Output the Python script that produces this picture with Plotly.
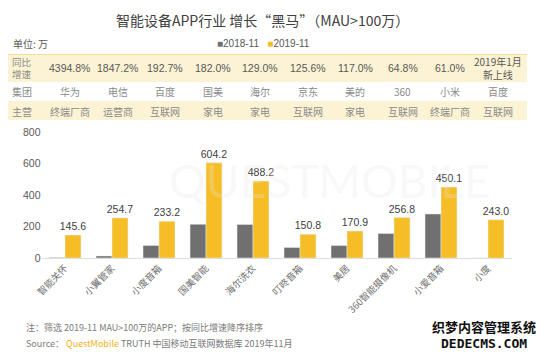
import plotly.graph_objects as go

categories = ["智能关怀", "小翼管家", "小度音箱", "国美智能", "海尔洗衣",
              "叮咚音箱", "美居", "360智能摄像机", "小爱音箱", "小度"]
mau_2018 = [3.2, 13.1, 79.7, 214.3, 213.2, 66.8, 78.8, 155.8, 279.6, 0]
mau_2019 = [145.6, 254.7, 233.2, 604.2, 488.2, 150.8, 170.9, 256.8, 450.1, 243.0]
growth = ["4394.8%", "1847.2%", "192.7%", "182.0%", "129.0%",
          "125.6%", "117.0%", "64.8%", "61.0%", "2019年1月<br>新上线"]
group = ["华为", "电信", "百度", "国美", "海尔", "京东", "美的", "360", "小米", "百度"]
business = ["终端厂商", "运营商", "互联网", "家电", "家电",
            "互联网", "家电", "互联网", "终端厂商", "互联网"]
series_names = ["2018-11", "2019-11"]
y_ticks = [0, 200, 400, 600, 800]

W, H = 550, 355
FONT = "Noto Sans CJK SC"
GRAY = "#707070"
YELLOW = "#F6BE26"


def px(x):
    return x / W


def py(y):
    return 1 - y / H


fig = go.Figure()
fig.add_trace(go.Bar(name=series_names[0], x=categories, y=mau_2018,
                     marker_color=GRAY, hoverinfo="skip", showlegend=False))
fig.add_trace(go.Bar(name=series_names[1], x=categories, y=mau_2019,
                     marker_color=YELLOW, text=[f"{v:.1f}" for v in mau_2019],
                     textposition="outside", cliponaxis=False, constraintext="none",
                     showlegend=False,
                     textfont=dict(size=10.5, color="#404040", family="Liberation Sans")))
# invisible helper trace on the table axis
fig.add_trace(go.Scatter(x=categories, y=[None] * len(categories), xaxis="x2",
                         yaxis="y", showlegend=False, hoverinfo="skip"))

shapes = []
shapes.append(dict(type="rect", xref="paper", yref="paper", x0=px(8), x1=px(527),
                   y0=py(82), y1=py(54), fillcolor="#FCF3D4", line_width=0, layer="below"))
shapes.append(dict(type="line", xref="paper", yref="paper", x0=px(8), x1=px(527),
                   y0=py(54.5), y1=py(54.5), line=dict(color="#F3DF9A", width=1)))
shapes.append(dict(type="rect", xref="paper", yref="paper", x0=px(8), x1=px(527),
                   y0=py(120), y1=py(101), fillcolor="#FCF3D4", line_width=0, layer="below"))

annotations = []


def note(text, x, y, font, xref="paper", xanchor="center", align="center"):
    annotations.append(dict(text=text, x=x, y=y, xref=xref, yref="paper",
                            xanchor=xanchor, yanchor="middle", showarrow=False,
                            font=font, align=align))


tf = dict(family="Liberation Sans", size=10.5, color="#595959")
lf = dict(family=FONT, size=10, color="#8a8a8a")
note("同比<br>增速", px(22), py(68), dict(family=FONT, size=9.5, color="#8a8a8a"))
note("集团", px(22), py(91), lf)
note("主营", px(22), py(111), lf)
for c, g, gr, b in zip(categories, growth, group, business):
    note(g, c, py(68), tf if "<br>" not in g else dict(family=FONT, size=10, color="#595959"),
         xref="x2")
    note(gr, c, py(91), lf, xref="x2")
    note(b, c, py(111), lf, xref="x2")

note("智能设备APP行业 增长“黑马”（MAU>100万）", px(262), py(20),
     dict(family=FONT, size=14, color="#404040"))
note("单位: 万", px(11), py(43), dict(family=FONT, size=10, color="#595959"), xanchor="left")
legend_text = (f"<span style='color:{GRAY}'>■</span>{series_names[0]}   "
               f"<span style='color:{YELLOW}'>■</span>{series_names[1]}")
note(legend_text, px(263), py(43), dict(family="Liberation Sans", size=10, color="#595959"))
note("QUESTMOBILE", px(330), py(180), dict(family="Lato", size=46, color="rgba(230,230,230,0.25)"))
note("注：筛选 2019-11 MAU>100万的APP；按同比增速降序排序", px(24), py(327),
     dict(family=FONT, size=9, color="#7a7a7a"), xanchor="left")
note("Source： <span style='color:#F2B21B'>QuestMobile</span> TRUTH 中国移动互联网数据库 2019年11月",
     px(24), py(343), dict(family=FONT, size=9, color="#7a7a7a"), xanchor="left")
note("<b>织梦内容管理系统</b>", px(484), py(326), dict(family=FONT, size=13, color="#111111"))
note("<b>DEDECMS.COM</b>", px(484), py(343), dict(family="DejaVu Sans Mono", size=13, color="#111111"))

fig.update_layout(
    width=W, height=H,
    margin=dict(l=0, r=0, t=0, b=0, autoexpand=False),
    paper_bgcolor="white", plot_bgcolor="rgba(0,0,0,0)",
    barmode="group", bargap=0.32, bargroupgap=0,
    font=dict(family=FONT),
    showlegend=False,
    xaxis=dict(domain=[px(41.5), px(511.5)], showline=True, linecolor="#dddddd",
               ticks="", tickangle=-45, automargin=False,
               tickfont=dict(family=FONT, size=9.5, color="#707070"), fixedrange=True),
    xaxis2=dict(domain=[px(42), px(526)], anchor="y", visible=False,
                categoryorder="array", categoryarray=categories),
    yaxis=dict(domain=[py(258), py(132)], range=[0, 800], tickvals=y_ticks,
               showgrid=False, zeroline=False, showline=False, automargin=False,
               tickfont=dict(family="Liberation Sans", size=10.5, color="#595959")),
    shapes=shapes,
    annotations=annotations,
)

fig.write_html("out.html", config={"displayModeBar": False},
               post_script="document.body.style.margin='0';document.body.style.overflow='hidden';")
